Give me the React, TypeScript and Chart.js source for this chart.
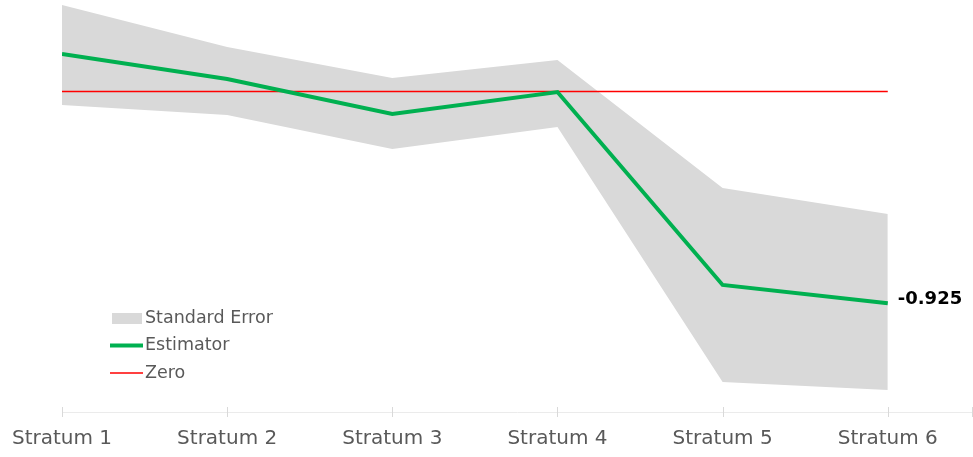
import React, { useEffect, useRef } from "react";
import { Chart, registerables } from "chart.js";

Chart.register(...registerables);

const categories = ["Stratum 1", "Stratum 2", "Stratum 3", "Stratum 4", "Stratum 5", "Stratum 6"];
const estimator = [0.164, 0.055, -0.098, -0.002, -0.845, -0.925];
const upperSE = [0.378, 0.195, 0.059, 0.138, -0.421, -0.535];
const lowerSE = [-0.059, -0.102, -0.251, -0.155, -1.269, -1.304];
const zeroLine = [0, 0, 0, 0, 0, 0];

const FONT = "'DejaVu Sans', Verdana, sans-serif";
const TEXT = "#595959";
const W = 973;
const H = 457;

const toPts = (arr: number[]) => arr.map((y, i) => ({ x: i + 1, y }));

const overlayPlugin = {
  id: "overlay",
  afterDraw(chart: any) {
    const ctx = chart.ctx;
    const xs = chart.scales.x;
    const ys = chart.scales.y;
    const ca = chart.chartArea;
    ctx.save();
    ctx.strokeStyle = "#d9d9d9";
    ctx.lineWidth = 1;
    xs.ticks.forEach((t: any) => {
      const px = Math.min(Math.round(xs.getPixelForValue(t.value)), W - 1) + 0.5;
      ctx.beginPath();
      ctx.moveTo(px, ca.bottom - 5);
      ctx.lineTo(px, ca.bottom + 5);
      ctx.stroke();
    });
    const last = estimator.length - 1;
    const lx = xs.getPixelForValue(last + 1) + 10;
    const ly = ys.getPixelForValue(estimator[last]) - 4;
    ctx.font = `bold 18px ${FONT}`;
    ctx.fillStyle = "#000000";
    ctx.textAlign = "left";
    ctx.textBaseline = "middle";
    ctx.fillText(estimator[last].toFixed(3), lx, ly);
    const items = [
      { label: "Standard Error", kind: "box", color: "#d9d9d9" },
      { label: "Estimator", kind: "line", color: "#00b050", w: 4 },
      { label: "Zero", kind: "line", color: "#ff0000", w: 1.5 },
    ];
    const x0 = 110;
    let y = 318;
    ctx.font = `17.5px ${FONT}`;
    items.forEach((it: any) => {
      if (it.kind === "box") {
        ctx.fillStyle = it.color;
        ctx.fillRect(x0 + 2, y - 5, 30, 11);
      } else {
        ctx.strokeStyle = it.color;
        ctx.lineWidth = it.w;
        ctx.beginPath();
        ctx.moveTo(x0, y);
        ctx.lineTo(x0 + 33, y);
        ctx.stroke();
      }
      ctx.fillStyle = TEXT;
      ctx.textAlign = "left";
      ctx.textBaseline = "middle";
      ctx.fillText(it.label, x0 + 35, y);
      y += 27.5;
    });
    ctx.restore();
  },
};

export default function App() {
  const ref = useRef<HTMLCanvasElement>(null);
  useEffect(() => {
    if (!ref.current) return;
    const chart = new Chart(ref.current, {
      type: "line",
      data: {
        datasets: [
          {
            label: "Standard Error",
            data: toPts(upperSE),
            borderWidth: 0,
            pointRadius: 0,
            backgroundColor: "#d9d9d9",
            borderColor: "rgba(0,0,0,0)",
            fill: "+1",
            order: 3,
          },
          {
            label: "SE lower",
            data: toPts(lowerSE),
            borderWidth: 0,
            pointRadius: 0,
            borderColor: "rgba(0,0,0,0)",
            fill: false,
            order: 3,
          },
          {
            label: "Zero",
            data: toPts(zeroLine),
            borderColor: "#ff0000",
            borderWidth: 1.5,
            pointRadius: 0,
            fill: false,
            order: 2,
          },
          {
            label: "Estimator",
            data: toPts(estimator),
            borderColor: "#00b050",
            borderWidth: 4,
            pointRadius: 0,
            fill: false,
            order: 1,
          },
        ],
      },
      options: {
        animation: false,
        responsive: false,
        maintainAspectRatio: false,
        devicePixelRatio: 1,
        layout: { autoPadding: false, padding: { left: 62, right: 1, top: 0, bottom: 6 } },
        plugins: { legend: { display: false }, tooltip: { enabled: false } },
        scales: {
          x: {
            type: "linear",
            min: 1,
            max: 6.51,
            afterBuildTicks: (scale: any) => {
              scale.ticks = [...categories.map((_, i) => ({ value: i + 1 })), { value: 6.51 }];
            },
            grid: {
              drawOnChartArea: false,
              drawTicks: true,
              tickLength: 15,
              color: "rgba(0,0,0,0)",
            },
            border: { display: true, color: "#ebebeb", width: 1 },
            ticks: {
              autoSkip: false,
              maxRotation: 0,
              padding: 0,
              color: TEXT,
              font: { family: FONT, size: 20 },
              callback: (v: any) => {
                const i = Number(v) - 1;
                return Number.isInteger(i) && categories[i] ? categories[i] : "";
              },
            },
          },
          y: {
            display: false,
            min: -1.4,
            max: 0.4,
          },
        },
      },
      plugins: [overlayPlugin],
    });
    return () => chart.destroy();
  }, []);
  return (
    <div style={{ position: "absolute", left: 0, top: 0, width: W, height: H }}>
      <canvas ref={ref} width={W} height={H} style={{ display: "block", width: W, height: H }} />
    </div>
  );
}
